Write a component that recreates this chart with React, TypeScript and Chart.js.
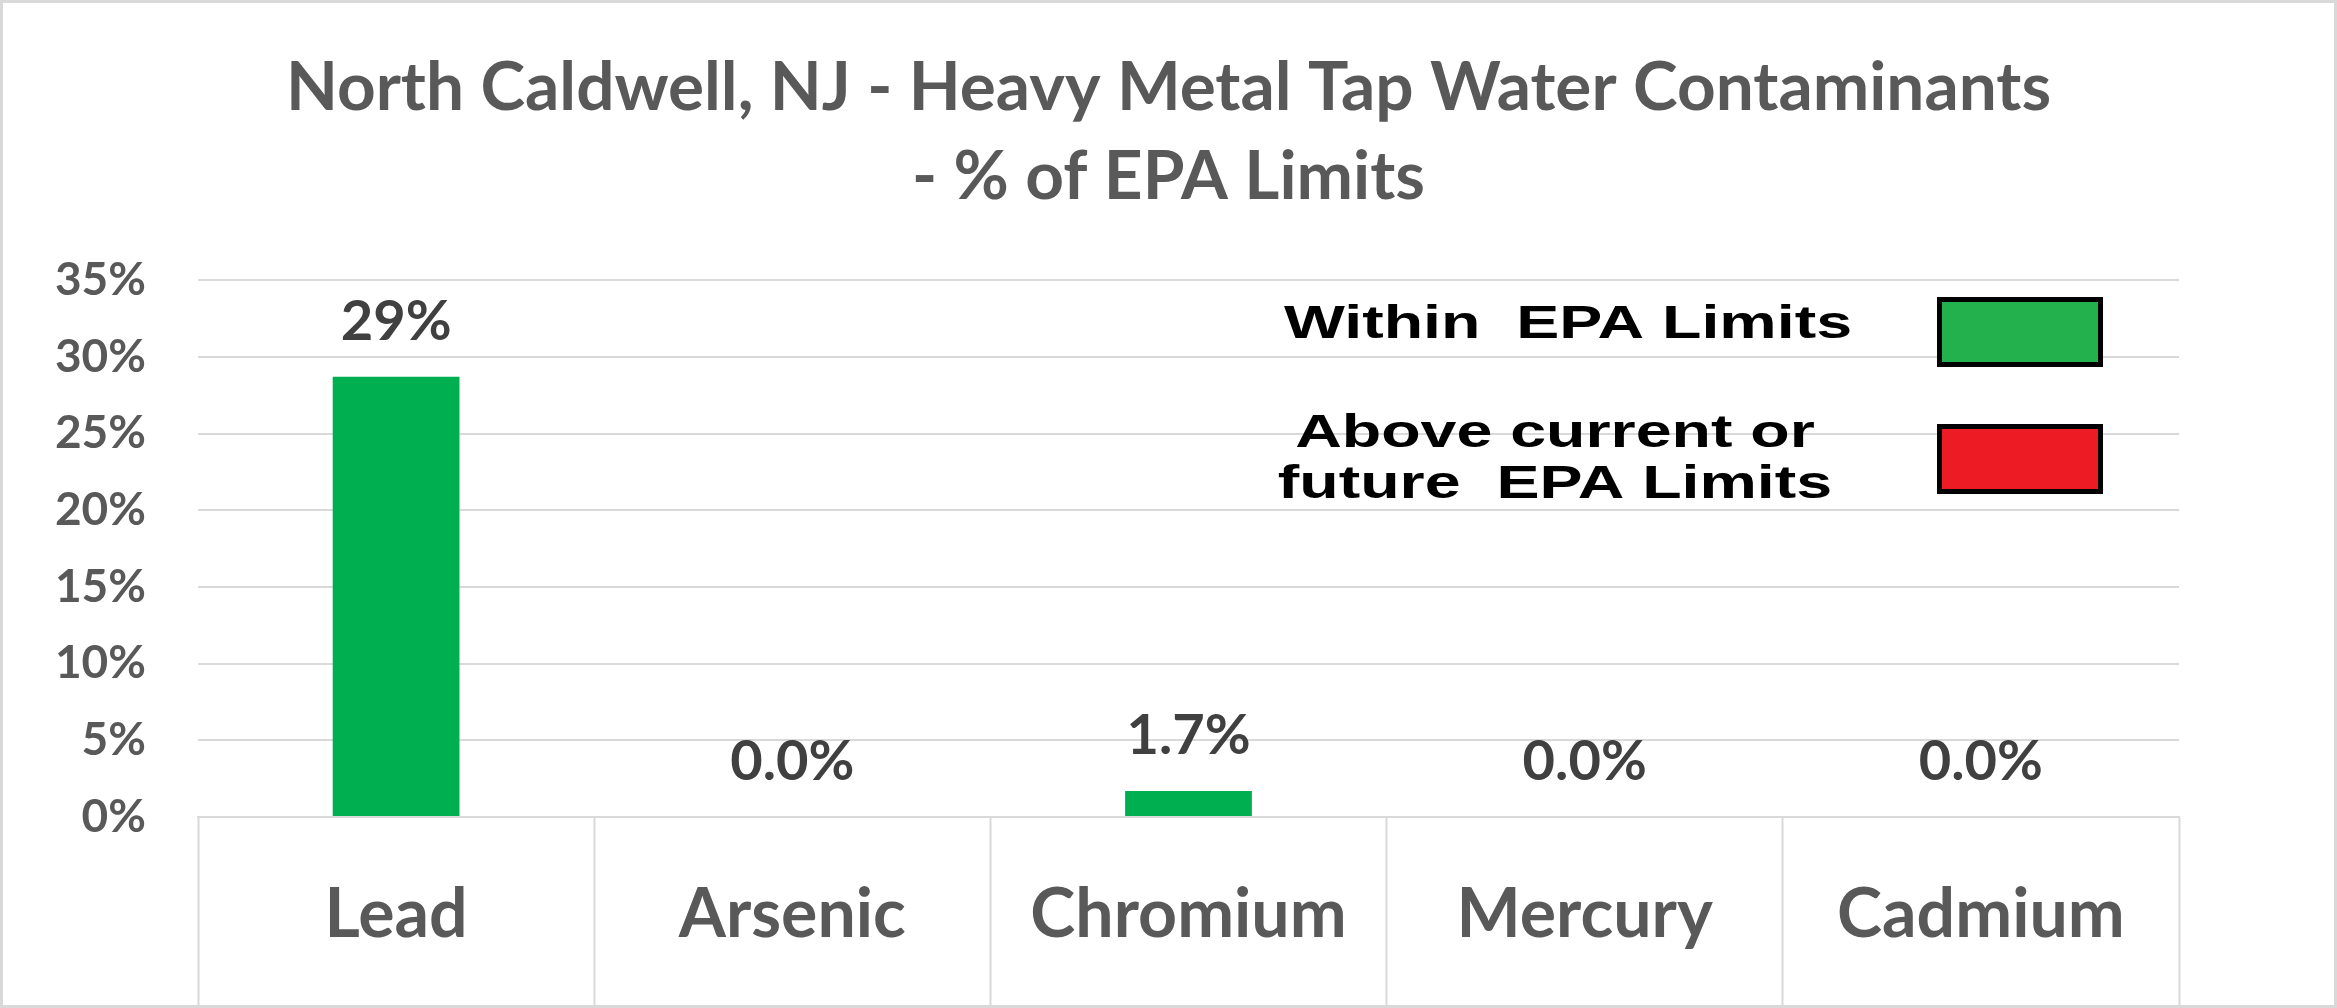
import React, { useEffect, useRef } from 'react';
import Chart from 'chart.js/auto';

const metals = ['Lead', 'Arsenic', 'Chromium', 'Mercury', 'Cadmium'];
const pctOfLimit = [0.287, 0, 0.017, 0, 0];
const yTicks = [0, 0.05, 0.1, 0.15, 0.2, 0.25, 0.3, 0.35];
const titleLines = ['North Caldwell, NJ - Heavy Metal Tap Water Contaminants', '- % of EPA Limits'];
const legendTexts = [['Within  EPA Limits'], ['Above current or', 'future  EPA Limits']];

const FONT = 'Lato, "Open Sans", sans-serif';
const GRID = '#d9d9d9';

const fmtLabel = (v: number) =>
  v >= 0.1 ? `${Math.round(v * 100)}%` : `${(v * 100).toFixed(1)}%`;

const pagePlugin = {
  id: 'page',
  beforeDraw(chart: any) {
    const { ctx, width, height } = chart;
    ctx.save();
    ctx.fillStyle = '#fff';
    ctx.fillRect(0, 0, width, height);
    ctx.strokeStyle = GRID;
    ctx.lineWidth = 3;
    ctx.strokeRect(1.5, 1.5, width - 3, height - 3);
    ctx.restore();
  },
};

const valueLabels = {
  id: 'valueLabels',
  afterDatasetsDraw(chart: any) {
    const { ctx } = chart;
    const meta = chart.getDatasetMeta(0);
    ctx.save();
    ctx.font = `bold 56px ${FONT}`;
    ctx.fillStyle = '#404040';
    ctx.textAlign = 'center';
    ctx.textBaseline = 'alphabetic';
    meta.data.forEach((bar: any, i: number) => {
      ctx.fillText(fmtLabel(pctOfLimit[i]), bar.x, bar.y - 37);
    });
    ctx.restore();
  },
};

// pasted-in legend box on the right of the plot
const imageLegend = {
  id: 'imageLegend',
  afterDraw(chart: any) {
    const { ctx } = chart;
    ctx.save();
    ctx.font = 'bold 46px "Liberation Sans", Arial, sans-serif';
    ctx.fillStyle = '#000';
    ctx.textAlign = 'center';
    ctx.textBaseline = 'alphabetic';
    const sx = 568 / ctx.measureText(legendTexts[0][0]).width;
    const centers = [[1568], [1555, 1555]];
    const baselines = [[338], [447, 498]];
    legendTexts.forEach((lines, k) => {
      lines.forEach((t, j) => {
        ctx.save();
        ctx.translate(centers[k][j], baselines[k][j]);
        ctx.scale(sx, 1);
        ctx.fillText(t, 0, 0);
        ctx.restore();
      });
    });
    const boxes = [
      { y: 297, color: '#22b14c' },
      { y: 424, color: '#ed1c24' },
    ];
    boxes.forEach((b) => {
      ctx.fillStyle = b.color;
      ctx.fillRect(1937, b.y, 166, 70);
      ctx.strokeStyle = '#000';
      ctx.lineWidth = 5;
      ctx.strokeRect(1939.5, b.y + 2.5, 161, 65);
    });
    ctx.restore();
  },
};

const App: React.FC = () => {
  const canvasRef = useRef<HTMLCanvasElement | null>(null);

  useEffect(() => {
    document.body.style.margin = '0';
    const ctx = canvasRef.current?.getContext('2d');
    if (!ctx) return;

    const chart = new Chart(ctx, {
      type: 'bar',
      data: {
        labels: metals,
        datasets: [
          {
            label: '% of EPA Limit',
            data: pctOfLimit,
            backgroundColor: '#00b050',
            categoryPercentage: 1,
            barPercentage: 0.32,
          },
        ],
      },
      options: {
        responsive: true,
        maintainAspectRatio: false,
        animation: false,
        layout: { padding: 0 },
        plugins: {
          legend: { display: false },
          tooltip: { enabled: false },
          title: {
            display: true,
            text: titleLines,
            color: '#595959',
            font: { family: FONT, size: 67.5, weight: 'bold', lineHeight: 1.32 },
            padding: { top: 44, bottom: 58 },
          },
        },
        scales: {
          x: {
            afterFit: (s: any) => {
              s.height = 191;
            },
            grid: {
              offset: true,
              drawOnChartArea: false,
              drawTicks: true,
              tickLength: 188,
              tickColor: GRID,
              tickWidth: 2,
            },
            border: { display: true, color: GRID, width: 2 },
            ticks: {
              color: '#595959',
              padding: -131,
              font: { family: FONT, size: 68, weight: 'bold' },
              maxRotation: 0,
            },
          },
          y: {
            min: 0,
            max: 0.35,
            afterFit: (s: any) => {
              s.width = 198;
            },
            afterBuildTicks: (s: any) => {
              s.ticks = yTicks.map((v) => ({ value: v }));
            },
            grid: { color: GRID, lineWidth: 2, drawTicks: false },
            border: { display: false },
            ticks: {
              color: '#595959',
              padding: 52,
              font: { family: FONT, size: 46, weight: 'bold' },
              callback: (v: any) => `${Math.round(Number(v) * 100)}%`,
            },
          },
          // empty right-hand axis: keeps room on the right so the title stays centred on the page
          yRight: {
            position: 'right',
            afterFit: (s: any) => {
              s.width = 158;
            },
            grid: { display: false },
            border: { display: false },
            ticks: { display: false },
          },
        },
      },
      plugins: [pagePlugin, valueLabels, imageLegend],
    });

    return () => {
      chart.destroy();
    };
  }, []);

  return (
    <div style={{ width: 2337, height: 1008, position: 'relative' }}>
      <canvas ref={canvasRef}></canvas>
    </div>
  );
};

export default App;
